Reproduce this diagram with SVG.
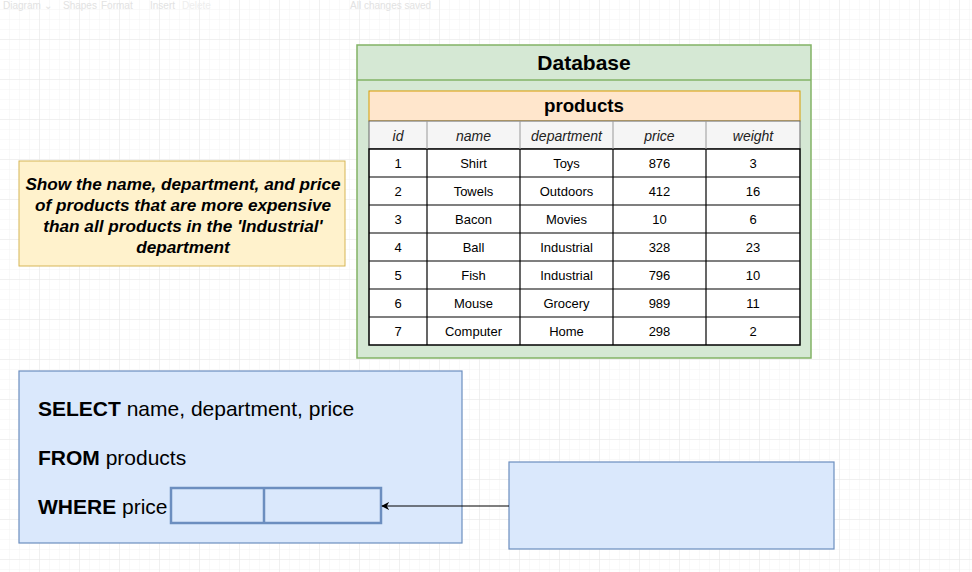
<svg xmlns="http://www.w3.org/2000/svg" width="972" height="572" viewBox="0 0 972 572">
<style>
text{font-family:"Liberation Sans",Arial,sans-serif;fill:#000}
.hd{font-size:14px;font-style:italic;text-anchor:middle;fill:#222}
.cell{font-size:13px;text-anchor:middle}
.q{font-size:17.2px;font-weight:bold;font-style:italic;text-anchor:middle}
.sql{font-size:21px}
.sql tspan.k{font-weight:bold}
.tb{font-size:10px;fill:#e2e2e2}
</style>
<defs>
<pattern id="g" width="10" height="10" patternUnits="userSpaceOnUse"><path d="M10 0V10H0" fill="none" stroke="#f3f3f3" stroke-width="1"/></pattern>
<pattern id="G" width="40" height="40" patternUnits="userSpaceOnUse"><rect width="40" height="40" fill="url(#g)"/><path d="M40 0V40H0" fill="none" stroke="#e8e8e8" stroke-width="1"/></pattern>
<marker id="arr" viewBox="0 0 10 10" refX="9" refY="5" markerWidth="8" markerHeight="8" orient="auto" markerUnits="userSpaceOnUse"><path d="M10 5L0 0L3 5L0 10Z" fill="#000"/></marker>
</defs>
<rect width="972" height="572" fill="#fff"/>
<rect width="972" height="572" fill="url(#G)"/>
<g id="toolbar">
<text class="tb" x="3" y="9">Diagram ⌄</text>
<text class="tb" x="63" y="9">Shapes</text>
<text class="tb" x="101" y="9">Format</text>
<text class="tb" x="150" y="9">Insert</text>
<text class="tb" x="182" y="9" style="fill:#eee">Delete</text>
<text class="tb" x="350" y="9">All changes saved</text>
</g>
<g id="database">
<rect x="357" y="45" width="454" height="313" fill="#d5e8d4" stroke="#82b366" stroke-width="1.5"/>
<line x1="357" y1="80" x2="811" y2="80" stroke="#82b366" stroke-width="1.5"/>
<text x="584" y="70" font-size="21" font-weight="bold" text-anchor="middle">Database</text>
</g>
<g id="products">
<rect x="369" y="91" width="431" height="30" fill="#ffe6cc" stroke="#d79b00" stroke-width="1"/>
<text x="584" y="112" font-size="18.7" font-weight="bold" text-anchor="middle">products</text>
<rect x="369" y="121" width="431" height="28" fill="#f5f5f5" stroke="#666" stroke-width="1"/>
<rect x="369" y="149" width="431" height="196" fill="#fff" stroke="#000" stroke-width="1.5"/>
<g stroke="#000" stroke-width="1.2">
<line x1="369" y1="177" x2="800" y2="177"/><line x1="369" y1="205" x2="800" y2="205"/>
<line x1="369" y1="233" x2="800" y2="233"/><line x1="369" y1="261" x2="800" y2="261"/>
<line x1="369" y1="289" x2="800" y2="289"/><line x1="369" y1="317" x2="800" y2="317"/>
<line x1="427" y1="149" x2="427" y2="345"/><line x1="520" y1="149" x2="520" y2="345"/>
<line x1="613" y1="149" x2="613" y2="345"/><line x1="706" y1="149" x2="706" y2="345"/>
</g>
<g stroke="#999" stroke-width="1">
<line x1="427" y1="121" x2="427" y2="149"/><line x1="520" y1="121" x2="520" y2="149"/>
<line x1="613" y1="121" x2="613" y2="149"/><line x1="706" y1="121" x2="706" y2="149"/>
</g>
<text class="hd" x="398" y="141">id</text><text class="hd" x="473.5" y="141">name</text><text class="hd" x="566.5" y="141">department</text><text class="hd" x="659.5" y="141">price</text><text class="hd" x="753" y="141">weight</text>
<text class="cell" x="398" y="168">1</text><text class="cell" x="473.5" y="168">Shirt</text><text class="cell" x="566.5" y="168">Toys</text><text class="cell" x="659.5" y="168">876</text><text class="cell" x="753" y="168">3</text>
<text class="cell" x="398" y="196">2</text><text class="cell" x="473.5" y="196">Towels</text><text class="cell" x="566.5" y="196">Outdoors</text><text class="cell" x="659.5" y="196">412</text><text class="cell" x="753" y="196">16</text>
<text class="cell" x="398" y="224">3</text><text class="cell" x="473.5" y="224">Bacon</text><text class="cell" x="566.5" y="224">Movies</text><text class="cell" x="659.5" y="224">10</text><text class="cell" x="753" y="224">6</text>
<text class="cell" x="398" y="252">4</text><text class="cell" x="473.5" y="252">Ball</text><text class="cell" x="566.5" y="252">Industrial</text><text class="cell" x="659.5" y="252">328</text><text class="cell" x="753" y="252">23</text>
<text class="cell" x="398" y="280">5</text><text class="cell" x="473.5" y="280">Fish</text><text class="cell" x="566.5" y="280">Industrial</text><text class="cell" x="659.5" y="280">796</text><text class="cell" x="753" y="280">10</text>
<text class="cell" x="398" y="308">6</text><text class="cell" x="473.5" y="308">Mouse</text><text class="cell" x="566.5" y="308">Grocery</text><text class="cell" x="659.5" y="308">989</text><text class="cell" x="753" y="308">11</text>
<text class="cell" x="398" y="336">7</text><text class="cell" x="473.5" y="336">Computer</text><text class="cell" x="566.5" y="336">Home</text><text class="cell" x="659.5" y="336">298</text><text class="cell" x="753" y="336">2</text>
</g>
<g id="question">
<rect x="19" y="161" width="326" height="105" fill="#fff2cc" stroke="#d6b656" stroke-width="1"/>
<text class="q" x="183" y="190">Show the name, department, and price</text>
<text class="q" x="183" y="211">of products that are more expensive</text>
<text class="q" x="183" y="232">than all products in the 'Industrial'</text>
<text class="q" x="183" y="253">department</text>
</g>
<g id="query">
<rect x="19" y="371" width="443" height="172" fill="#dae8fc" stroke="#6c8ebf" stroke-width="1.2"/>
<text class="sql" x="38" y="416"><tspan class="k">SELECT</tspan> name, department, price</text>
<text class="sql" x="38" y="465"><tspan class="k">FROM</tspan> products</text>
<text class="sql" x="38" y="514"><tspan class="k">WHERE</tspan> price</text>
<rect x="171" y="488" width="210" height="35" fill="#dae8fc" stroke="#6c8ebf" stroke-width="2.5"/>
<line x1="264" y1="488" x2="264" y2="523" stroke="#6c8ebf" stroke-width="2.5"/>
</g>
<g id="subquery">
<rect x="509" y="462" width="325" height="87" fill="#dae8fc" stroke="#6c8ebf" stroke-width="1.2"/>
</g>
<g id="connectors">
<line x1="509" y1="506" x2="382" y2="506" stroke="#000" stroke-width="1.2" marker-end="url(#arr)"/>
</g>
</svg>
